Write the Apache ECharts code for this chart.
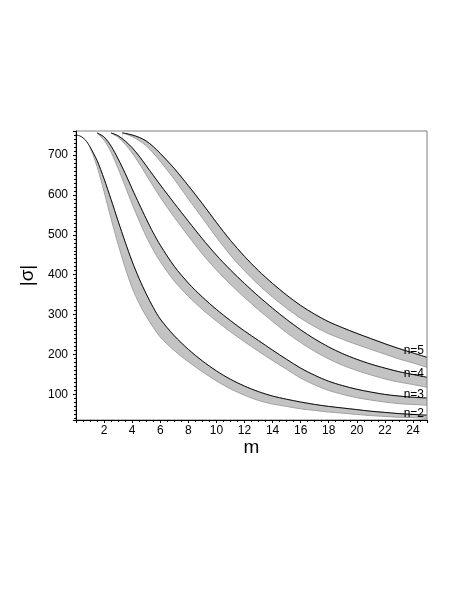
<!DOCTYPE html>
<html>
<head>
<meta charset="utf-8">
<script src="https://cdn.jsdelivr.net/npm/echarts@6/dist/echarts.min.js"></script>
<style>
  html, body { margin: 0; padding: 0; background: #fff; }
  #chart { width: 463px; height: 599px; }
</style>
</head>
<body>
<div id="chart"></div>
<script>
// m 取值 与 各条带的上沿（黑线）/下沿
var m2 = [0, 0.25, 0.5, 0.75, 1, 1.5, 2, 2.5, 3, 3.5, 4, 4.5, 5, 5.5, 6, 7, 8, 9, 10, 11, 12, 13, 14, 15, 16, 17, 18, 19, 20, 21, 22, 23, 24, 25];
var upper2 = [750, 748, 743, 734, 720, 686, 640, 588, 534, 482, 433, 390, 352, 318, 289, 247, 213, 184, 159, 138, 121, 107, 96, 88, 81, 75, 70, 66, 62, 58, 55, 52, 50, 48];
var lower2 = [null, null, null, null, 720, 671, 608, 540, 476, 418, 367, 328, 296, 268, 244, 210, 182, 157, 134, 114, 98, 85, 76, 70, 64, 60, 56, 53, 50, 47, 45, 43, 42, 40];

var m3 = [1.5, 2, 2.5, 3, 3.5, 4, 4.5, 5, 5.5, 6, 7, 8, 9, 10, 11, 12, 13, 14, 15, 16, 17, 18, 19, 20, 21, 22, 23, 24, 25];
var upper3 = [755, 745, 722, 690, 654, 615, 577, 540, 505, 474, 421, 379, 344, 313, 285, 259, 235, 211, 188, 166, 148, 133, 122, 113, 106, 100, 96, 93, 91];
var lower3 = [755, 737, 707, 666, 622, 577, 535, 496, 462, 433, 384, 346, 313, 284, 257, 232, 208, 185, 163, 141, 124, 110, 100, 92, 86, 81, 77, 75, 73];

var m4 = [2.5, 3, 3.5, 4, 4.5, 5, 5.5, 6, 7, 8, 9, 10, 11, 12, 13, 14, 15, 16, 17, 18, 19, 20, 21, 22, 23, 24, 25];
var upper4 = [755, 748, 735, 718, 697, 673, 649, 625, 579, 534, 490, 449, 412, 378, 346, 316, 288, 262, 239, 219, 202, 188, 176, 166, 157, 150, 143];
var lower4 = [755, 744, 727, 705, 679, 650, 622, 594, 544, 497, 452, 412, 376, 343, 312, 283, 255, 230, 208, 189, 173, 160, 149, 139, 131, 125, 118];

var m5 = [3.3, 3.5, 4, 4.5, 5, 5.5, 6, 7, 8, 9, 10, 11, 12, 13, 14, 15, 16, 17, 18, 19, 20, 21, 22, 23, 24, 25];
var upper5 = [755, 754, 750, 744, 735, 721, 704, 666, 623, 578, 531, 486, 446, 410, 378, 349, 323, 301, 282, 267, 253, 240, 227, 215, 204, 193];
var lower5 = [755, 753, 746, 736, 723, 705, 684, 639, 590, 542, 494, 449, 410, 375, 344, 316, 291, 270, 252, 238, 225, 213, 201, 189, 179, 168];

var bands = [
  { name: "n=5", m: m5, upper: upper5, lower: lower5, dy: -7 },
  { name: "n=4", m: m4, upper: upper4, lower: lower4, dy: -4 },
  { name: "n=3", m: m3, upper: upper3, lower: lower3, dy: -3 },
  { name: "n=2", m: m2, upper: upper2, lower: lower2, dy: -2 }
];

function pairs(m, v) {
  return m.map(function (x, i) { return [x, v[i] == null ? "-" : v[i]]; });
}

var series = [];
// 先画灰色条带，再用白色盖住下沿以下
bands.forEach(function (b) {
  var top = b.m.map(function (x, i) { return [x, b.lower[i] == null ? "-" : b.upper[i]]; });
  series.push({
    type: "line", data: top, smooth: 0.3, symbol: "none", silent: true,
    lineStyle: { color: "#a8a8a8", width: 1 },
    areaStyle: { color: "#c3c3c3", opacity: 1, origin: "start" }
  });
  series.push({
    type: "line", data: pairs(b.m, b.lower), smooth: 0.3, symbol: "none", silent: true,
    lineStyle: { color: "#a0a0a0", width: 1 },
    areaStyle: { color: "#ffffff", opacity: 1, origin: "start" }
  });
});
// 黑色曲线和右端标签
bands.forEach(function (b) {
  series.push({
    type: "line", data: pairs(b.m, b.upper), smooth: 0.3, symbol: "none", silent: true, z: 5,
    lineStyle: { color: "#111", width: 1 },
    endLabel: {
      show: true, formatter: b.name, align: "right", distance: 0, offset: [-3, b.dy],
      color: "#000", fontSize: 12, fontFamily: "Liberation Sans"
    }
  });
});

var myChart = echarts.init(document.getElementById("chart"));
myChart.setOption({
  animation: false,
  backgroundColor: "#fff",
  grid: { left: 76, right: 36, top: 131, bottom: 179, show: true, borderColor: "#808080", borderWidth: 1, z: 10 },
  xAxis: {
    type: "value", min: 0, max: 25, interval: 2, z: 10,
    name: "m", nameLocation: "middle", nameGap: 17,
    nameTextStyle: { fontSize: 19, fontFamily: "Liberation Sans", color: "#000" },
    axisLine: { show: true, lineStyle: { color: "#000", width: 1 } },
    axisTick: { show: true, inside: false, length: 3, lineStyle: { color: "#000" } },
    minorTick: { show: true, splitNumber: 4, length: 2, lineStyle: { color: "#000" } },
    axisLabel: { showMinLabel: false, showMaxLabel: false, fontSize: 12, margin: 5, color: "#000", fontFamily: "Liberation Sans" },
    splitLine: { show: false }
  },
  yAxis: {
    type: "value", min: 36, max: 760, splitNumber: 7, z: 10,
    name: "|σ|", nameLocation: "middle", nameGap: 39, nameRotate: 90,
    nameTextStyle: { fontSize: 19, fontFamily: "Liberation Sans", color: "#000" },
    axisLine: { show: true, lineStyle: { color: "#000", width: 1 } },
    axisTick: { show: true, inside: false, length: 3, lineStyle: { color: "#000" } },
    minorTick: { show: true, splitNumber: 10, length: 2, lineStyle: { color: "#000" } },
    axisLabel: { showMinLabel: false, showMaxLabel: false, fontSize: 12, margin: 8, color: "#000", fontFamily: "Liberation Sans" },
    splitLine: { show: false }
  },
  series: series
});
</script>
</body>
</html>
